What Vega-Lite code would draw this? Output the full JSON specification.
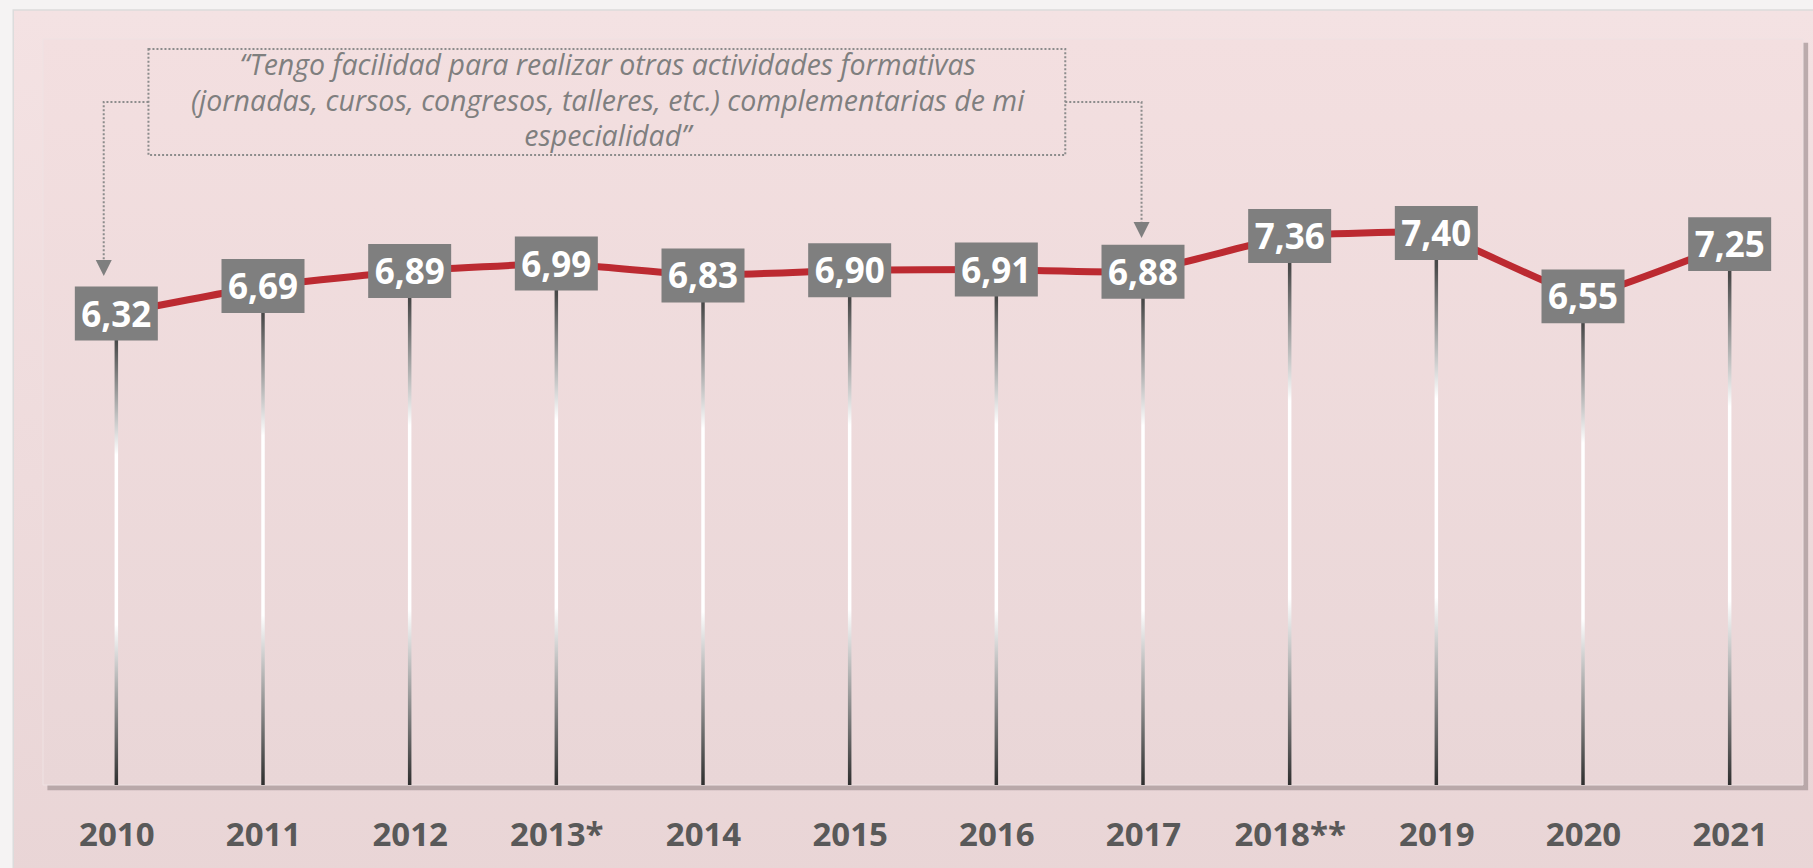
{
  "$schema": "https://vega.github.io/schema/vega-lite/v6.json",
  "width": 1770,
  "height": 746,
  "autosize": {"type": "none"},
  "padding": {"left": 38, "top": 39, "right": 5, "bottom": 83},
  "background": "#F5F3F3",
  "config": {
    "view": {"stroke": null},
    "locale": {"number": {"decimal": ",", "thousands": ".", "grouping": [3], "currency": ["", " €"]}}
  },
  "encoding": {
    "x": {
      "field": "x", "type": "quantitative",
      "scale": {"domain": [2009.5, 2021.5], "nice": false, "zero": false},
      "axis": {
        "values": [2010, 2011, 2012, 2013, 2014, 2015, 2016, 2017, 2018, 2019, 2020, 2021],
        "labelExpr": "datum.value == 2013 ? '2013*' : datum.value == 2018 ? '2018**' : '' + datum.value",
        "domain": false, "ticks": false, "grid": false, "title": null,
        "labelFont": "Open Sans", "labelFontWeight": "bold", "labelFontSize": 33,
        "labelColor": "#595959", "labelPadding": 34, "labelFlush": false, "labelOverlap": false,
        "zindex": 1
      }
    },
    "y": {
      "field": "y", "type": "quantitative",
      "scale": {"domain": [0, 10], "nice": false, "zero": false},
      "axis": null
    }
  },
  "layer": [
    {
      "data": {"values": [{"x": 2009.297, "x2": 2021.7, "y": -1.3, "y2": 10.389}]},
      "mark": {"type": "rect", "stroke": "#DCDCDC", "strokeWidth": 1.5,
        "color": {"gradient": "linear", "x1": 0, "y1": 0, "x2": 0, "y2": 1,
          "stops": [{"offset": 0, "color": "#F4E2E3"}, {"offset": 1, "color": "#E9D5D6"}]}},
      "encoding": {"x2": {"field": "x2"}, "y2": {"field": "y2"}}
    },
    {
      "data": {"values": [{"x": 2009.53, "x2": 2021.535, "y": -0.07, "y2": 9.95}]},
      "mark": {"type": "rect", "color": "#A89899", "opacity": 0.75},
      "encoding": {"x2": {"field": "x2"}, "y2": {"field": "y2"}}
    },
    {
      "data": {"values": [{"x": 2009.5, "x2": 2021.5, "y": 0, "y2": 10}]},
      "mark": {"type": "rect", "stroke": "#EFE2E3", "strokeWidth": 1,
        "color": {"gradient": "linear", "x1": 0, "y1": 0, "x2": 0, "y2": 1,
          "stops": [{"offset": 0, "color": "#F3DFE0"}, {"offset": 1, "color": "#E9D6D7"}]}},
      "encoding": {"x2": {"field": "x2"}, "y2": {"field": "y2"}}
    },
    {
      "data": {"values": [{"x": 2010.219, "x2": 2016.47, "y": 8.445, "y2": 9.866}]},
      "mark": {"type": "rect", "fillOpacity": 0, "stroke": "#8C8C8C", "strokeWidth": 2, "strokeDash": [2, 2]},
      "encoding": {"x2": {"field": "x2"}, "y2": {"field": "y2"}}
    },
    {
      "data": {"values": [
        {"g": "a", "o": 1, "x": 2010.219, "y": 9.155},
        {"g": "a", "o": 2, "x": 2009.914, "y": 9.155},
        {"g": "a", "o": 3, "x": 2009.914, "y": 7.0},
        {"g": "b", "o": 1, "x": 2016.47, "y": 9.155},
        {"g": "b", "o": 2, "x": 2016.99, "y": 9.155},
        {"g": "b", "o": 3, "x": 2016.99, "y": 7.5}
      ]},
      "mark": {"type": "line", "color": "#8C8C8C", "strokeWidth": 2, "strokeDash": [2, 2]},
      "encoding": {"detail": {"field": "g"}, "order": {"field": "o", "type": "quantitative"}}
    },
    {
      "data": {"values": [{"x": 2009.914, "y": 6.93}, {"x": 2016.99, "y": 7.44}]},
      "mark": {"type": "point", "shape": "M-1,-1L1,-1L0,1Z", "size": 256, "filled": true, "color": "#7F7F7F", "opacity": 1}
    },
    {
      "data": {"values": [
        {"x": 2013.35, "y": 9.517, "t": "“Tengo facilidad para realizar otras actividades formativas\n(jornadas, cursos, congresos, talleres, etc.) complementarias de mi\nespecialidad”"}
      ]},
      "mark": {"type": "text", "font": "Open Sans", "fontStyle": "italic", "fontSize": 28.5, "color": "#7F7F7F", "align": "center", "baseline": "alphabetic", "lineBreak": "\n", "lineHeight": 35.5},
      "encoding": {"text": {"field": "t"}}
    },
    {
      "data": {"name": "main", "values": [
        {"x": 2010, "y": 6.32}, {"x": 2011, "y": 6.69}, {"x": 2012, "y": 6.89},
        {"x": 2013, "y": 6.99}, {"x": 2014, "y": 6.83}, {"x": 2015, "y": 6.90},
        {"x": 2016, "y": 6.91}, {"x": 2017, "y": 6.88}, {"x": 2018, "y": 7.36},
        {"x": 2019, "y": 7.40}, {"x": 2020, "y": 6.55}, {"x": 2021, "y": 7.25}
      ]},
      "layer": [
        {
          "mark": {"type": "bar", "size": 3.5,
            "color": {"gradient": "linear", "x1": 0, "y1": 0, "x2": 0, "y2": 1,
              "stops": [
                {"offset": 0, "color": "#3C3C3C"},
                {"offset": 0.06, "color": "#4A4A4A"},
                {"offset": 0.3, "color": "#FFFFFF"},
                {"offset": 0.66, "color": "#FFFFFF"},
                {"offset": 1, "color": "#2E2E2E"}
              ]}},
          "encoding": {"y2": {"datum": 0}}
        },
        {
          "mark": {"type": "line", "color": "#BC2A31", "strokeWidth": 7, "interpolate": "cardinal", "tension": 0.75}
        },
        {
          "mark": {"type": "point", "shape": "M-1,-0.65L1,-0.65L1,0.65L-1,0.65Z", "size": 6889, "filled": true, "color": "#7F7F7F", "opacity": 1}
        },
        {
          "mark": {"type": "text", "font": "Open Sans", "fontWeight": "bold", "fontSize": 35, "color": "#FFFFFF", "baseline": "alphabetic", "dy": 13},
          "encoding": {"text": {"field": "y", "type": "quantitative", "format": ".2f"}}
        }
      ]
    }
  ]
}
